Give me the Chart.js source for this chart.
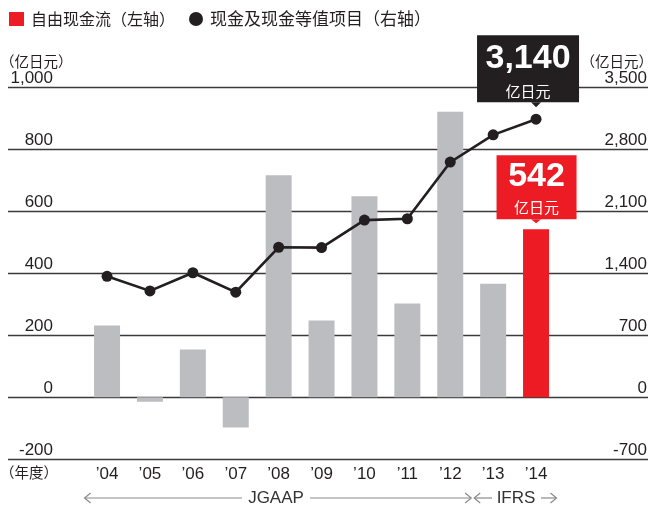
<!DOCTYPE html>
<html>
<head>
<meta charset="utf-8">
<script src="https://cdn.jsdelivr.net/npm/chart.js@4.4.1/dist/chart.umd.min.js"></script>
<style>
  html, body { margin: 0; padding: 0; background: #fff; }
</style>
</head>
<body>
<canvas id="fcf-chart" width="653" height="506"></canvas>
<script>
// data
const years = ["\u201904", "\u201905", "\u201906", "\u201907", "\u201908", "\u201909", "\u201910", "\u201911", "\u201912", "\u201913", "\u201914"];
const freeCashFlow = [231, -15, 154, -98, 716, 247, 648, 302, 921, 366, 542];        // 亿日元, left axis
const cashEquivalents = [1365, 1200, 1405, 1185, 1693, 1689, 2000, 2015, 2655, 2963, 3140]; // 亿日元, right axis
const leftTicks = [-200, 0, 200, 400, 600, 800, 1000];
const rightTicks = [-700, 0, 700, 1400, 2100, 2800, 3500];

const GRAY = "#bcbdc1";
const RED = "#ed1c24";
const INK = "#231f20";
const NUM_FONT = "'Liberation Sans', Arial, sans-serif";
const CJK_FONT = "'Noto Sans CJK SC', sans-serif";

const last = freeCashFlow.length - 1;
const barColors = freeCashFlow.map((v, i) => i === last ? RED : GRAY);
const fmt = v => v.toLocaleString("en-US");

// grid lines, axis labels, legend, accounting-standard arrows
const decorPlugin = {
  id: "decor",
  beforeDatasetsDraw(chart) {
    const ctx = chart.ctx;
    const yL = chart.scales.y, yR = chart.scales.y1;
    ctx.save();
    // full width grid lines
    ctx.strokeStyle = "#3a3a3a";
    ctx.lineWidth = 1.3;
    leftTicks.forEach(t => {
      const y = Math.round(yL.getPixelForValue(t)) + 0.5;
      ctx.beginPath();
      ctx.moveTo(8, y);
      ctx.lineTo(648, y);
      ctx.stroke();
    });
    // tick labels sit just above their lines
    ctx.fillStyle = INK;
    ctx.font = "17px " + NUM_FONT;
    ctx.textBaseline = "alphabetic";
    ctx.textAlign = "right";
    leftTicks.forEach(t => ctx.fillText(fmt(t), 53, yL.getPixelForValue(t) - 4));
    rightTicks.forEach(t => ctx.fillText(fmt(t), 647, yR.getPixelForValue(t) - 4));
    // units
    ctx.font = "14.5px " + CJK_FONT;
    ctx.textBaseline = "middle";
    ctx.textAlign = "left";
    ctx.fillText("（亿日元）", 0, 61);
    ctx.textAlign = "right";
    ctx.fillText("（亿日元）", 653, 61);
    ctx.textAlign = "left";
    ctx.fillText("（年度）", 0, 472);

    // legend
    ctx.fillStyle = RED;
    ctx.fillRect(9, 12, 15, 14);
    ctx.fillStyle = INK;
    ctx.font = "16px " + CJK_FONT;
    ctx.fillText("自由现金流（左轴）", 31, 19);
    ctx.beginPath();
    ctx.arc(196, 19, 7, 0, Math.PI * 2);
    ctx.fill();
    ctx.font = "17px " + CJK_FONT;
    ctx.fillText("现金及现金等值项目（右轴）", 210, 19);

    // JGAAP / IFRS arrows
    const x = chart.scales.x;
    const yA = 498;
    ctx.strokeStyle = "#8a8a8a";
    ctx.lineWidth = 1.2;
    const seg = (a, b) => { ctx.beginPath(); ctx.moveTo(a, yA); ctx.lineTo(b, yA); ctx.stroke(); };
    const headL = (a) => { ctx.beginPath(); ctx.moveTo(a + 6, yA - 5); ctx.lineTo(a, yA); ctx.lineTo(a + 6, yA + 5); ctx.stroke(); };
    const headR = (a) => { ctx.beginPath(); ctx.moveTo(a - 6, yA - 5); ctx.lineTo(a, yA); ctx.lineTo(a - 6, yA + 5); ctx.stroke(); };
    const left = x.left - 1;
    const split = (x.getPixelForValue(8) + x.getPixelForValue(9)) / 2 + 0.5;
    const right = x.right;
    seg(left, 242); headL(left);
    seg(310, split - 1); headR(split - 1);
    headL(split + 2); seg(split + 2, 492);
    seg(541, right - 1); headR(right - 1);
    ctx.fillStyle = "#333";
    ctx.font = "17px " + NUM_FONT;
    ctx.textAlign = "center";
    ctx.fillText("JGAAP", 276, yA);
    ctx.fillText("IFRS", 516, yA);
    ctx.restore();
  },
  afterDatasetsDraw(chart) {
    const ctx = chart.ctx;
    const pt = chart.getDatasetMeta(1).data[last];
    const bar = chart.getDatasetMeta(0).data[last];
    ctx.save();
    const callout = (fill, l, r, top, bottom, tipX, tipY, big, bigY, smallY) => {
      ctx.fillStyle = fill;
      ctx.beginPath();
      ctx.rect(l, top, r - l, bottom - top);
      ctx.fill();
      ctx.beginPath();
      ctx.moveTo(tipX - 5, bottom);
      ctx.lineTo(tipX, tipY);
      ctx.lineTo(tipX + 5, bottom);
      ctx.fill();
      const cx = (l + r) / 2;
      ctx.fillStyle = "#fff";
      ctx.textAlign = "center";
      ctx.textBaseline = "middle";
      ctx.font = "bold 34px " + NUM_FONT;
      ctx.fillText(big, cx, bigY);
      ctx.font = "15px " + CJK_FONT;
      ctx.fillText("亿日元", cx, smallY);
    };
    // cash & equivalents call-out (black)
    const bTip = pt.y - 12;
    callout(INK, pt.x - 59, pt.x + 43, bTip - 72, bTip - 5, pt.x, bTip,
      fmt(cashEquivalents[last]), bTip - 49, bTip - 16);
    // free cash flow call-out (red)
    const rTip = bar.y - 6;
    callout(RED, bar.x - 39.5, bar.x + 40.5, rTip - 68, rTip - 4, bar.x, rTip,
      fmt(freeCashFlow[last]), rTip - 47, rTip - 16);
    ctx.restore();
  }
};

new Chart(document.getElementById("fcf-chart"), {
  type: "bar",
  data: {
    labels: years,
    datasets: [{
      type: "bar",
      label: "自由现金流(左轴)",
      data: freeCashFlow,
      backgroundColor: barColors,
      yAxisID: "y",
      categoryPercentage: 1,
      barPercentage: 0.606,
      order: 2
    }, {
      type: "line",
      label: "现金及现金等值项目(右轴)",
      data: cashEquivalents,
      borderColor: INK,
      borderWidth: 2.6,
      pointRadius: 5.5,
      pointBackgroundColor: INK,
      pointBorderWidth: 0,
      tension: 0,
      yAxisID: "y1",
      order: 1
    }]
  },
  options: {
    responsive: false,
    animation: false,
    devicePixelRatio: 1,
    layout: {
      padding: { left: 85.6, right: 95.5, top: 87.3, bottom: 16.5 }
    },
    plugins: {
      legend: { display: false },
      tooltip: { enabled: false }
    },
    scales: {
      x: {
        grid: { display: false, drawTicks: false },
        border: { display: false },
        ticks: { color: INK, font: { size: 17, family: NUM_FONT }, padding: 5 }
      },
      y: {
        display: false,
        position: "left",
        min: -200, max: 1000,
        ticks: { stepSize: 200 }
      },
      y1: {
        display: false,
        position: "right",
        min: -700, max: 3500,
        ticks: { stepSize: 700 }
      }
    }
  },
  plugins: [decorPlugin]
});
</script>
</body>
</html>
